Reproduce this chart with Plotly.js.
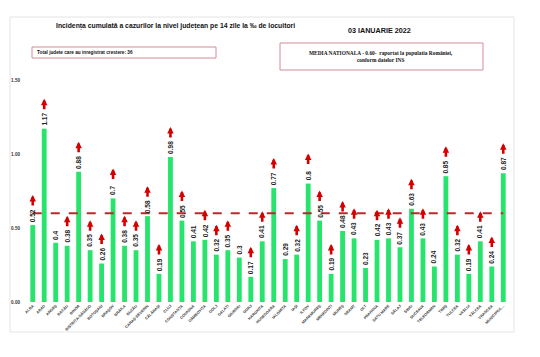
<!DOCTYPE html>
<html>
<head>
<meta charset="utf-8">
<script src="https://cdn.plot.ly/plotly-3.0.1.min.js"></script>
<style>html,body{margin:0;padding:0;background:#fff;}#chart{width:540px;height:357px;}</style>
</head>
<body>
<div id="chart"></div>
<script>
const counties = ["ALBA","ARAD","ARGEȘ","BACĂU","BIHOR","BISTRIȚA-NĂSĂUD","BOTOȘANI","BRAȘOV","BRĂILA","BUZĂU","CARAȘ-SEVERIN","CĂLĂRAȘI","CLUJ","CONSTANȚA","COVASNA","DÂMBOVIȚA","DOLJ","GALAȚI","GIURGIU","GORJ","HARGHITA","HUNEDOARA","IALOMIȚA","IAȘI","ILFOV","MARAMUREȘ","MEHEDINȚI","MUREȘ","NEAMȚ","OLT","PRAHOVA","SATU MARE","SĂLAJ","SIBIU","SUCEAVA","TELEORMAN","TIMIȘ","TULCEA","VASLUI","VÂLCEA","VRANCEA","MUNICIPIUL..."];
const incidence = [0.52,1.17,0.4,0.38,0.88,0.35,0.26,0.7,0.38,0.35,0.58,0.19,0.98,0.55,0.41,0.42,0.32,0.35,0.3,0.17,0.41,0.77,0.29,0.32,0.8,0.55,0.19,0.48,0.43,0.23,0.42,0.43,0.37,0.63,0.43,0.24,0.85,0.32,0.19,0.41,0.24,0.87];
const increased = [1,1,0,1,1,1,1,1,1,1,1,1,1,1,0,1,1,1,0,1,1,1,0,1,1,1,1,1,1,0,1,1,1,1,1,0,1,1,1,1,1,1];
const nationalAverage = 0.60;
const yTicks = [0, 0.5, 1.0, 1.5];

const annotations = [];
counties.forEach((c, i) => {
  annotations.push({
    x: c, y: incidence[i], xref: 'x', yref: 'y',
    text: String(incidence[i]), showarrow: false, textangle: -90,
    yanchor: 'bottom', xanchor: 'center', yshift: 1,
    font: {family: 'Liberation Sans, Arial', size: 6.5, color: '#222', weight: 'bold'}
  });
  if (increased[i]) {
    annotations.push({
      x: c, y: incidence[i], xref: 'x', yref: 'y',
      text: '', showarrow: true, ax: 0, ay: 12, axref: 'pixel', ayref: 'pixel',
      yshift: 30, arrowhead: 2, arrowsize: 0.5, arrowwidth: 2.6, arrowcolor: '#d40000'
    });
  }
});

// header texts
const px = v => (v - 27) / 482;
const py = v => (302 - v) / 222;
const hdr = (x, y, text, size, family, xanchor) => ({
  xref: 'paper', yref: 'paper', x: px(x), y: py(y), xanchor: xanchor || 'center', yanchor: 'middle',
  showarrow: false, text: text, font: {family: family, size: size, color: '#111'}
});
annotations.push(hdr(175, 26, '<b>Incidența cumulată a cazurilor la nivel județean pe 14 zile la ‰ de locuitori</b>', 6.8, 'Liberation Sans, Arial'));
annotations.push(hdr(379, 30, '<b>03 IANUARIE 2022</b>', 7.2, 'Liberation Sans, Arial'));
annotations.push(hdr(35, 52.5, '<b>Total judete care au inregistrat crestere: 36</b>', 4.7, 'Liberation Sans, Arial', 'left'));
annotations.push(hdr(381, 56.5, '<b>MEDIA NATIONALA - 0.60-  raportat la populatia României,<br>conform datelor INS</b>', 5.4, 'Liberation Serif, Times New Roman'));

const shapes = [
  {type: 'rect', xref: 'paper', yref: 'paper', x0: px(10), x1: px(514), y0: py(332), y1: py(17),
   line: {color: '#e4e4e4', width: 1}, fillcolor: 'rgba(0,0,0,0)'},
  {type: 'rect', xref: 'paper', yref: 'paper', x0: px(32), x1: px(216), y0: py(58), y1: py(47),
   line: {color: '#d48a96', width: 1}, fillcolor: 'rgba(0,0,0,0)'},
  {type: 'rect', xref: 'paper', yref: 'paper', x0: px(280), x1: px(483), y0: py(70), y1: py(43),
   line: {color: '#d48a96', width: 1}, fillcolor: 'rgba(0,0,0,0)'},
  {type: 'line', xref: 'x', yref: 'y', x0: counties[0], x1: counties[counties.length - 1],
   y0: nationalAverage, y1: nationalAverage, line: {color: '#c0272d', width: 2, dash: 'dash'}}
];

const trace = {
  type: 'bar', x: counties, y: incidence,
  marker: {color: '#27e46c', line: {width: 0}},
  hoverinfo: 'x+y'
};

const layout = {
  width: 540, height: 357,
  margin: {l: 27, r: 31, t: 80, b: 55},
  paper_bgcolor: '#fff', plot_bgcolor: '#fff',
  bargap: 0.58,
  showlegend: false,
  xaxis: {
    type: 'category', tickangle: -45, showgrid: false, zeroline: false, showline: false,
    ticks: '', tickfont: {family: 'Liberation Sans, Arial', size: 3.8, color: '#333', weight: 'bold'},
    automargin: false
  },
  yaxis: {
    range: [0, 1.5], tickvals: yTicks, tickformat: '.2f', showgrid: false, zeroline: false,
    showline: false, ticks: '', ticklabelstandoff: 6,
    tickfont: {family: 'Liberation Sans, Arial', size: 4.6, color: '#333', weight: 'bold'},
    automargin: false
  },
  shapes: shapes,
  annotations: annotations
};

Plotly.newPlot('chart', [trace], layout, {displayModeBar: false, staticPlot: true});
</script>
</body>
</html>
